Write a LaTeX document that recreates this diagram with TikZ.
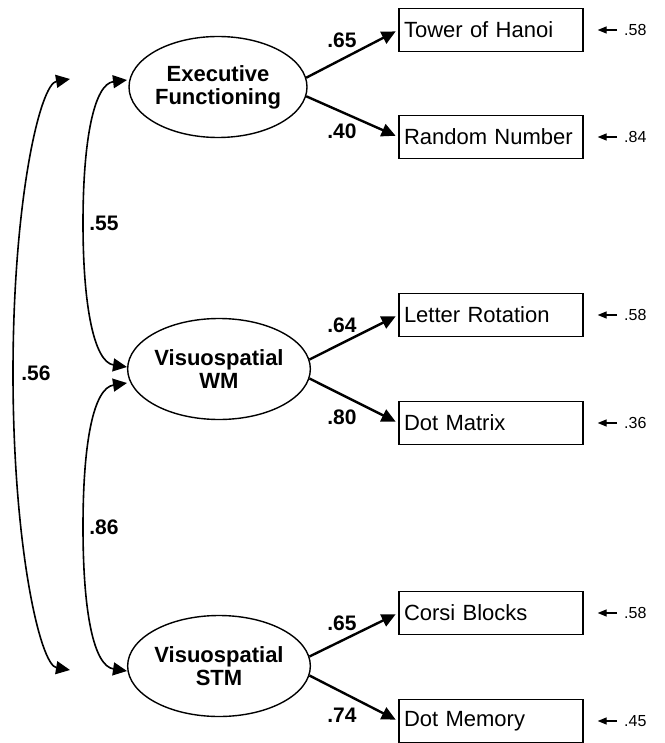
\documentclass[tikz,border=0pt]{standalone}
\usepackage{fontspec}
\setmainfont{Liberation Sans}
\usepackage{tikz}
\usetikzlibrary{shapes.geometric}
\usetikzlibrary{arrows.meta}
\tikzstyle{NodeLatent}=[ellipse,draw,line width=1.4pt,minimum width=171pt,minimum height=101pt,
inner sep=0pt,align=center,font=\fontsize{22}{23}\selectfont\bfseries]
\tikzstyle{NodeObs}=[rectangle,draw,line width=1.3pt,minimum width=184pt,minimum height=43pt,
text width=174pt,inner xsep=5pt,align=left,font=\fontsize{22}{24}\selectfont]
\tikzstyle{NodeErr}=[anchor=west,inner xsep=7pt,inner ysep=1pt,font=\fontsize{16}{18}\selectfont]
\tikzstyle{LabelPath}=[inner sep=0pt,font=\fontsize{21}{23}\selectfont\bfseries]
\tikzstyle{EdgePath}=[-{Triangle[length=14pt,width=13pt]},line width=2.4pt,shorten >=3pt]
\tikzstyle{EdgeCov}=[{Triangle[length=14pt,width=13pt]}-{Triangle[length=14pt,width=13pt]},line width=1.6pt]
\tikzstyle{EdgeErr}=[-{Triangle[length=9pt,width=7pt]},line width=1.3pt]

\begin{document}
\begin{tikzpicture}[x=1pt,y=-1pt]
        \useasboundingbox(0,0)rectangle(664,743);
        % latent factors
        \node[NodeLatent](ef)at(218,87){Executive\\Functioning};
        \node[NodeLatent](wm)at(219,369){Visuospatial\\WM};
        \node[NodeLatent](stm)at(219,666){Visuospatial\\STM};
        % measures
        \node[NodeObs](toh)at(491,30){Tower of Hanoi};
        \node[NodeObs](rn)at(491,137){Random Number};
        \node[NodeObs](lr)at(491,315){Letter Rotation};
        \node[NodeObs](dmx)at(491,423){Dot Matrix};
        \node[NodeObs](cb)at(491,613){Corsi Blocks};
        \node[NodeObs](dme)at(491,721){Dot Memory};
        % loadings
        \draw[EdgePath](ef.6)--(toh.west);
        \draw[EdgePath](ef.-6)--(rn.west);
        \draw[EdgePath](wm.6)--(lr.west);
        \draw[EdgePath](wm.-6)--(dmx.west);
        \draw[EdgePath](stm.6)--(cb.west);
        \draw[EdgePath](stm.-6)--(dme.west);
        \node[LabelPath](lToh)at(342,40){.65};
        \node[LabelPath](lRn)at(342,131){.40};
        \node[LabelPath](lLr)at(342,325){.64};
        \node[LabelPath](lDmx)at(342,417){.80};
        \node[LabelPath](lCb)at(342,623){.65};
        \node[LabelPath](lDme)at(342,715){.74};
        % residuals
        \node[NodeErr](eToh)at(617,30){.58};
        \node[NodeErr](eRn)at(617,137){.84};
        \node[NodeErr](eLr)at(617,315){.58};
        \node[NodeErr](eDmx)at(617,423){.36};
        \node[NodeErr](eCb)at(617,613){.58};
        \node[NodeErr](eDme)at(617,721){.45};
        \draw[EdgeErr](eToh.west)--([xshift=14pt]toh.east);
        \draw[EdgeErr](eRn.west)--([xshift=14pt]rn.east);
        \draw[EdgeErr](eLr.west)--([xshift=14pt]lr.east);
        \draw[EdgeErr](eDmx.west)--([xshift=14pt]dmx.east);
        \draw[EdgeErr](eCb.west)--([xshift=14pt]cb.east);
        \draw[EdgeErr](eDme.west)--([xshift=14pt]dme.east);
        % correlations
        \coordinate(efIn)at(127,80);
        \coordinate(efOut)at(70,79);
        \coordinate(wmInA)at(127,367);
        \coordinate(wmInB)at(127,383);
        \coordinate(stmIn)at(127,671);
        \coordinate(stmOut)at(70,670);
        \draw[EdgeCov](efIn) .. controls (94,84) and (83,140) .. (83,223)
            .. controls (83,306) and (94,362) .. (wmInA);
        \draw[EdgeCov](wmInB) .. controls (94,388) and (83,440) .. (83,527)
            .. controls (83,614) and (94,666) .. (stmIn);
        \draw[EdgeCov](efOut) .. controls (40,84) and (13,200) .. (13,373)
            .. controls (13,546) and (40,665) .. (stmOut);
        \node[LabelPath](cEfWm)at(104,223){.55};
        \node[LabelPath](cEfStm)at(36,373){.56};
        \node[LabelPath](cWmStm)at(104,527){.86};
    \end{tikzpicture}
\end{document}
